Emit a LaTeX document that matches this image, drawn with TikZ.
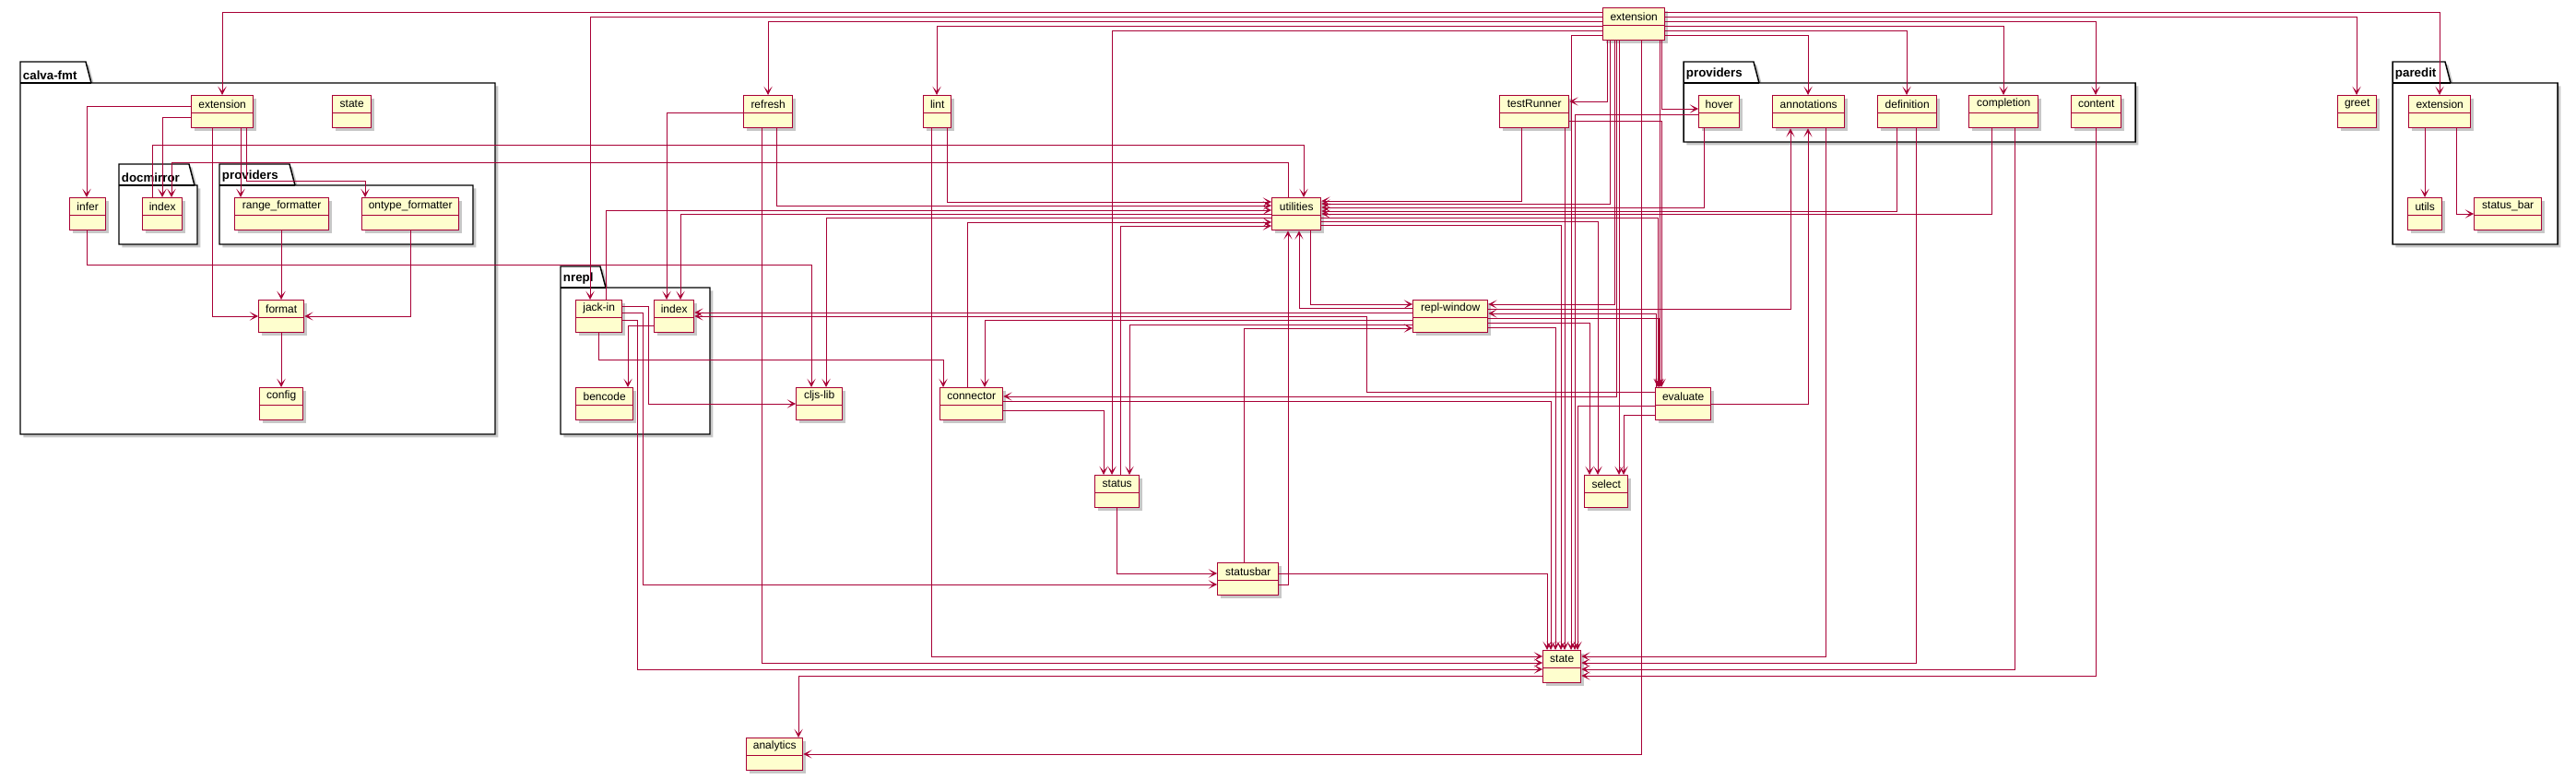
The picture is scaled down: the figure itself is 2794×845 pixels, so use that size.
\documentclass[tikz,border=0pt]{standalone}
\usepackage{fontspec}
\setmainfont{Liberation Sans}
\usetikzlibrary{arrows.meta,shadows}
\definecolor{pred}{HTML}{A80036}
\definecolor{pfill}{HTML}{FEFECE}
\tikzset{
 shad/.style={drop shadow={shadow xshift=2.5pt, shadow yshift=-2.5pt, fill=black, opacity=0.22}},
 clsbox/.style={draw=pred, fill=pfill, line width=1pt, minimum height=26.25pt, inner sep=0pt, shad},
 clstext/.style={inner sep=0pt, minimum height=14.25pt, font=\fontsize{9}{10}\selectfont},
 clssep/.style={draw=pred, line width=1pt},
 pkg/.style={draw=black, fill=white, line width=1.1pt, shad},
 pkgsep/.style={draw=black, line width=1.1pt},
 pkglabel/.style={font=\bfseries\fontsize{10}{12}\selectfont, inner xsep=2pt, inner ysep=2.5pt, anchor=south west},
 dep/.style={draw=pred, line width=0.65pt, -{Stealth[length=7pt,width=7pt,inset=4pt]}},
}
\newcommand\mycls[5]{%
 \node[clsbox, minimum width={(#4-#2)*0.75pt}, anchor=north west] (#1) at (#2,#3) {};
 \node[clstext, anchor=north] (#1-t) at (#1.north) {#5};
 \draw[clssep] (#1-t.south -| #1.west) -- (#1-t.south -| #1.east);
}
% name, label, x0, xtabtop, ytab, x1, ybody, y1
\newcommand\mypkg[8]{%
 \draw[pkg] (#3,#5) -- (#4,#5) -- ({#4+6},#7) -- (#6,#7) -- (#6,#8) -- (#3,#8) -- cycle;
 \draw[pkgsep] (#3,#7) -- ({#4+6},#7);
 \node[pkglabel] (#1) at (#3,#7) {#2};
}
\begin{document}
\begin{tikzpicture}[x=0.75pt,y=-0.75pt]
\useasboundingbox (0,0) rectangle (2794,845);
% packages
\mypkg{pk-calvafmt}{calva-fmt}{22}{93}{67}{537}{90}{471}
\mypkg{pk-docmirror}{docmirror}{129}{205}{178}{214}{201}{265}
\mypkg{pk-fmtprov}{providers}{238}{314}{178}{513}{201}{265}
\mypkg{pk-nrepl}{nrepl}{608}{651}{289}{770}{312}{471}
\mypkg{pk-providers}{providers}{1826}{1902}{67}{2316}{90}{154}
\mypkg{pk-paredit}{paredit}{2595}{2652}{67}{2774}{90}{265}
% classes
\mycls{ext}{1738}{8}{1805}{extension}
\mycls{refresh}{806}{103}{859}{refresh}
\mycls{lint}{1001}{103}{1031}{lint}
\mycls{testRunner}{1626}{103}{1701}{testRunner}
\mycls{greet}{2535}{103}{2577}{greet}
\mycls{utilities}{1379}{214}{1432}{utilities}
\mycls{replw}{1532}{325}{1613}{repl-window}
\mycls{cljslib}{863}{420}{913}{cljs-lib}
\mycls{connector}{1019}{420}{1087}{connector}
\mycls{evaluate}{1795}{420}{1855}{evaluate}
\mycls{status}{1187}{515}{1235}{status}
\mycls{select}{1718}{515}{1765}{select}
\mycls{statusbar}{1320}{610}{1386}{statusbar}
\mycls{state}{1673}{705}{1714}{state}
\mycls{analytics}{809}{800}{870}{analytics}
\mycls{fmtext}{207}{103}{274}{extension}
\mycls{fmtstate}{360}{103}{402}{state}
\mycls{infer}{75}{214}{114}{infer}
\mycls{dmindex}{154}{214}{197}{index}
\mycls{rangef}{254}{214}{356}{range\_formatter}
\mycls{ontypef}{392}{214}{497}{ontype\_formatter}
\mycls{format}{280}{325}{329}{format}
\mycls{config}{281}{420}{328}{config}
\mycls{jackin}{624}{325}{674}{jack-in}
\mycls{nindex}{709}{325}{752}{index}
\mycls{bencode}{624}{420}{686}{bencode}
\mycls{hover}{1842}{103}{1886}{hover}
\mycls{annotations}{1922}{103}{2000}{annotations}
\mycls{definition}{2036}{103}{2100}{definition}
\mycls{completion}{2135}{103}{2210}{completion}
\mycls{content}{2246}{103}{2300}{content}
\mycls{pext}{2612}{103}{2679}{extension}
\mycls{utils}{2611}{214}{2648}{utils}
\mycls{statusbar2}{2683}{214}{2756}{status\_bar}
% edges from main extension
\draw[dep] (ext.west |- 0,13) -| (fmtext.north -| 241,0);
\draw[dep] (ext.west |- 0,18) -| (jackin.north -| 640,0);
\draw[dep] (ext.west |- 0,23) -| (refresh.north -| 833,0);
\draw[dep] (ext.west |- 0,28) -| (lint.north -| 1016,0);
\draw[dep] (ext.west |- 0,33) -| (status.north -| 1206,0);
\draw[dep] (ext.west |- 0,38) -| (state.north -| 1704,0);
\draw[dep] (ext.east |- 0,13) -| (pext.north -| 2646,0);
\draw[dep] (ext.east |- 0,18) -| (greet.north -| 2556,0);
\draw[dep] (ext.east |- 0,23) -| (content.north -| 2273,0);
\draw[dep] (ext.east |- 0,28) -| (completion.north -| 2173,0);
\draw[dep] (ext.east |- 0,33) -| (definition.north -| 2068,0);
\draw[dep] (ext.east |- 0,38) -| (annotations.north -| 1961,0);
\draw[dep] (ext.south -| 1743,0) |- (testRunner.east |- 0,110);
\draw[dep] (ext.south -| 1802,0) |- (hover.west |- 0,118);
\draw[dep] (ext.south -| 1746,0) |- (utilities.east |- 0,221);
\draw[dep] (ext.south -| 1751,0) |- (replw.east |- 0,330);
\draw[dep] (ext.south -| 1753,0) |- (connector.east |- 0,430);
\draw[dep] (ext.south -| 1756,0) -- (select.north -| 1756,0);
\draw[dep] (ext.south -| 1780,0) |- (analytics.east |- 0,818);
\draw[dep] (ext.south -| 1800,0) -- (evaluate.north -| 1800,0);
% calva-fmt
\draw[dep] (fmtext.west |- 0,115) -| (infer.north -| 94,0);
\draw[dep] (fmtext.west |- 0,127) -| (dmindex.north -| 176,0);
\draw[dep] (fmtext.south -| 261,0) -- (rangef.north -| 261,0);
\draw[dep] (fmtext.south -| 267,0) -- (267,196) -| (ontypef.north -| 396,0);
\draw[dep] (fmtext.south -| 230,0) |- (format.west |- 0,343);
\draw[dep] (rangef.south -| 305,0) -- (format.north -| 305,0);
\draw[dep] (ontypef.south -| 445,0) |- (format.east |- 0,343);
\draw[dep] (format.south -| 305,0) -- (config.north -| 305,0);
\draw[dep] (dmindex.north -| 165,0) -- (165,157) -| (utilities.north -| 1414,0);
\draw[dep] (utilities.north -| 1397,0) -- (1397,176) -| (dmindex.north -| 186,0);
\draw[dep] (infer.south -| 94,0) -- (94,287) -| (cljslib.north -| 880,0);
% refresh, lint
\draw[dep] (refresh.west |- 0,122) -| (nindex.north -| 723,0);
\draw[dep] (refresh.south -| 842,0) |- (utilities.west |- 0,223);
\draw[dep] (refresh.south -| 826,0) |- (state.west |- 0,719);
\draw[dep] (lint.south -| 1027,0) |- (utilities.west |- 0,219);
\draw[dep] (lint.south -| 1010,0) |- (state.west |- 0,712);
% nrepl
\draw[dep] (jackin.north -| 657,0) |- (utilities.west |- 0,228);
\draw[dep] (jackin.east |- 0,332) -- (703,332) |- (cljslib.west |- 0,438);
\draw[dep] (jackin.east |- 0,339) -- (697,339) |- (statusbar.west |- 0,634);
\draw[dep] (jackin.east |- 0,347) -- (691,347) |- (state.west |- 0,726);
\draw[dep] (jackin.south -| 649,0) -- (649,390) -| (connector.north -| 1023,0);
\draw[dep] (nindex.west |- 0,353) -| (bencode.north -| 681,0);
% utilities
\draw[dep] (utilities.west |- 0,232) -| (nindex.north -| 738,0);
\draw[dep] (utilities.west |- 0,236) -| (cljslib.north -| 896,0);
\draw[dep] (connector.north -| 1049,0) |- (utilities.west |- 0,241);
\draw[dep] (status.north -| 1215,0) |- (utilities.west |- 0,245);
\draw[dep] (testRunner.south -| 1650,0) |- (utilities.east |- 0,218);
\draw[dep] (hover.south -| 1848,0) |- (utilities.east |- 0,225);
\draw[dep] (definition.south -| 2057,0) |- (utilities.east |- 0,229);
\draw[dep] (completion.south -| 2160,0) |- (utilities.east |- 0,232);
\draw[dep] (utilities.east |- 0,236) -| (evaluate.north -| 1798,0);
\draw[dep] (utilities.east |- 0,240) -| (select.north -| 1733,0);
\draw[dep] (utilities.east |- 0,244) -| (state.north -| 1693,0);
\draw[dep] (utilities.south -| 1421,0) |- (replw.west |- 0,330);
\draw[dep] (replw.west |- 0,334) -| (utilities.south -| 1409,0);
\draw[dep] (statusbar.east |- 0,634) -| (utilities.south -| 1397,0);
% repl-window
\draw[dep] (replw.west |- 0,339) -- (nindex.east |- 0,339);
\draw[dep] (replw.west |- 0,347) -| (connector.north -| 1068,0);
\draw[dep] (replw.west |- 0,352) -| (status.north -| 1225,0);
\draw[dep] (statusbar.north -| 1349,0) |- (replw.west |- 0,356);
\draw[dep] (replw.east |- 0,335) -| (annotations.south -| 1942,0);
\draw[dep] (evaluate.north -| 1796,0) |- (replw.east |- 0,340);
\draw[dep] (replw.east |- 0,345) -| (evaluate.north -| 1799,0);
\draw[dep] (replw.east |- 0,350) -| (select.north -| 1724,0);
\draw[dep] (replw.east |- 0,355) -| (state.north -| 1687,0);
% evaluate, testRunner, hover
\draw[dep] (evaluate.west |- 0,425) -| (1482,343) -- (nindex.east |- 0,343);
\draw[dep] (evaluate.west |- 0,440) -| (state.north -| 1711,0);
\draw[dep] (evaluate.west |- 0,450) -| (select.north -| 1761,0);
\draw[dep] (evaluate.east |- 0,438) -| (annotations.south -| 1961,0);
\draw[dep] (testRunner.east |- 0,131) -| (evaluate.north -| 1802,0);
\draw[dep] (testRunner.south -| 1697,0) -- (state.north -| 1697,0);
\draw[dep] (hover.west |- 0,124) -| (state.north -| 1708,0);
% connector, status, statusbar
\draw[dep] (connector.east |- 0,435) -| (state.north -| 1682,0);
\draw[dep] (connector.east |- 0,445) -| (status.north -| 1197,0);
\draw[dep] (status.south -| 1211,0) |- (statusbar.west |- 0,622);
\draw[dep] (statusbar.east |- 0,622) -| (state.north -| 1678,0);
% state
\draw[dep] (state.west |- 0,733) -| (analytics.north -| 866,0);
\draw[dep] (annotations.south -| 1980,0) |- (state.east |- 0,712);
\draw[dep] (definition.south -| 2078,0) |- (state.east |- 0,719);
\draw[dep] (completion.south -| 2185,0) |- (state.east |- 0,726);
\draw[dep] (content.south -| 2273,0) |- (state.east |- 0,733);
% paredit
\draw[dep] (pext.south -| 2630,0) -- (utils.north -| 2630,0);
\draw[dep] (pext.south -| 2664,0) |- (statusbar2.west |- 0,232);
\end{tikzpicture}
\end{document}
